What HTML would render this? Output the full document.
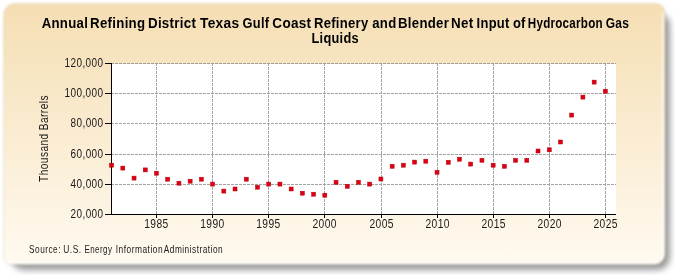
<!DOCTYPE html>
<html><head><meta charset="utf-8"><style>
html,body{margin:0;padding:0;}
body{width:675px;height:275px;position:relative;overflow:hidden;background:#fff;}
svg{position:absolute;left:0;top:0;}
.g{stroke:#a2a2a2;stroke-width:1;stroke-dasharray:3 1;shape-rendering:crispEdges;}
.ax{stroke:#000;stroke-width:1;shape-rendering:crispEdges;}
.m{fill:#de0012;stroke:#b4000c;stroke-width:0.5;}
text{font-family:"Liberation Sans",sans-serif;fill:#1a1a1a;}
#txt{opacity:0.999;}
.lab{font-size:12px;letter-spacing:0.5px;}
.t{font-size:14.2px;font-weight:bold;fill:#000;letter-spacing:0.3px;}
.src{font-size:10.2px;letter-spacing:0.6px;}
</style></head><body>
<svg width="675" height="275" viewBox="0 0 675 275">
<defs>
<filter id="fs" x="-5%" y="-5%" width="110%" height="110%"><feGaussianBlur stdDeviation="3"/></filter>
<filter id="fp" x="-2%" y="-2%" width="104%" height="104%"><feGaussianBlur stdDeviation="0.8"/></filter>
<linearGradient id="bg" x1="0" y1="0" x2="0" y2="1"><stop offset="0" stop-color="#f5deb3"/><stop offset="1" stop-color="#fffaf0"/></linearGradient>
</defs>
<rect x="11" y="13" width="659" height="257" rx="13" fill="#9a9a9a" filter="url(#fs)"/>
<g filter="url(#fp)">
<path d="M14.6,3.5 H656 A9 9 0 0 1 665,12.5 V253.5 A11 11 0 0 1 654,264.5 H10.6 A7 7 0 0 1 3.6,257.5 V14.5 A11 11 0 0 1 14.6,3.5 Z" fill="url(#bg)" stroke="rgba(120,110,80,0.14)" stroke-width="1"/>
<path d="M663 12 V252.5 A10 10 0 0 1 653 262.5 H11 A6 6 0 0 1 5.5 258" fill="none" stroke="rgba(255,255,255,0.55)" stroke-width="2.2"/>
</g>
<rect x="112" y="64" width="504" height="150" fill="#fff"/>
<line x1="111" y1="184.5" x2="616" y2="184.5" class="g"/>
<line x1="111" y1="154.5" x2="616" y2="154.5" class="g"/>
<line x1="111" y1="123.5" x2="616" y2="123.5" class="g"/>
<line x1="111" y1="93.5" x2="616" y2="93.5" class="g"/>
<line x1="111" y1="63.5" x2="616" y2="63.5" class="g"/>
<line x1="156.5" y1="63" x2="156.5" y2="214" class="g"/>
<line x1="212.5" y1="63" x2="212.5" y2="214" class="g"/>
<line x1="268.5" y1="63" x2="268.5" y2="214" class="g"/>
<line x1="324.5" y1="63" x2="324.5" y2="214" class="g"/>
<line x1="381.5" y1="63" x2="381.5" y2="214" class="g"/>
<line x1="437.5" y1="63" x2="437.5" y2="214" class="g"/>
<line x1="493.5" y1="63" x2="493.5" y2="214" class="g"/>
<line x1="549.5" y1="63" x2="549.5" y2="214" class="g"/>
<line x1="605.5" y1="63" x2="605.5" y2="214" class="g"/>
<line x1="111.5" y1="63" x2="111.5" y2="215" class="ax"/>
<line x1="111" y1="214.5" x2="616" y2="214.5" class="ax"/>
<line x1="105" y1="214.5" x2="111" y2="214.5" class="ax"/>
<line x1="105" y1="184.5" x2="111" y2="184.5" class="ax"/>
<line x1="105" y1="154.5" x2="111" y2="154.5" class="ax"/>
<line x1="105" y1="123.5" x2="111" y2="123.5" class="ax"/>
<line x1="105" y1="93.5" x2="111" y2="93.5" class="ax"/>
<line x1="105" y1="63.5" x2="111" y2="63.5" class="ax"/>
<line x1="156.5" y1="215" x2="156.5" y2="218" class="ax"/>
<line x1="212.5" y1="215" x2="212.5" y2="218" class="ax"/>
<line x1="268.5" y1="215" x2="268.5" y2="218" class="ax"/>
<line x1="324.5" y1="215" x2="324.5" y2="218" class="ax"/>
<line x1="381.5" y1="215" x2="381.5" y2="218" class="ax"/>
<line x1="437.5" y1="215" x2="437.5" y2="218" class="ax"/>
<line x1="493.5" y1="215" x2="493.5" y2="218" class="ax"/>
<line x1="549.5" y1="215" x2="549.5" y2="218" class="ax"/>
<line x1="605.5" y1="215" x2="605.5" y2="218" class="ax"/>
<rect x="109.60" y="163.20" width="4" height="4" class="m"/>
<rect x="120.82" y="166.10" width="4" height="4" class="m"/>
<rect x="132.04" y="176.10" width="4" height="4" class="m"/>
<rect x="143.27" y="167.90" width="4" height="4" class="m"/>
<rect x="154.49" y="171.20" width="4" height="4" class="m"/>
<rect x="165.71" y="177.20" width="4" height="4" class="m"/>
<rect x="176.93" y="181.20" width="4" height="4" class="m"/>
<rect x="188.15" y="179.20" width="4" height="4" class="m"/>
<rect x="199.38" y="177.20" width="4" height="4" class="m"/>
<rect x="210.60" y="182.10" width="4" height="4" class="m"/>
<rect x="221.82" y="189.10" width="4" height="4" class="m"/>
<rect x="233.04" y="187.00" width="4" height="4" class="m"/>
<rect x="244.26" y="177.20" width="4" height="4" class="m"/>
<rect x="255.49" y="185.20" width="4" height="4" class="m"/>
<rect x="266.71" y="182.10" width="4" height="4" class="m"/>
<rect x="277.93" y="182.10" width="4" height="4" class="m"/>
<rect x="289.15" y="187.00" width="4" height="4" class="m"/>
<rect x="300.37" y="191.20" width="4" height="4" class="m"/>
<rect x="311.60" y="192.20" width="4" height="4" class="m"/>
<rect x="322.82" y="193.20" width="4" height="4" class="m"/>
<rect x="334.04" y="180.30" width="4" height="4" class="m"/>
<rect x="345.26" y="184.30" width="4" height="4" class="m"/>
<rect x="356.48" y="180.30" width="4" height="4" class="m"/>
<rect x="367.71" y="182.10" width="4" height="4" class="m"/>
<rect x="378.93" y="177.00" width="4" height="4" class="m"/>
<rect x="390.15" y="164.30" width="4" height="4" class="m"/>
<rect x="401.37" y="163.20" width="4" height="4" class="m"/>
<rect x="412.59" y="160.10" width="4" height="4" class="m"/>
<rect x="423.82" y="159.20" width="4" height="4" class="m"/>
<rect x="435.04" y="170.30" width="4" height="4" class="m"/>
<rect x="446.26" y="160.30" width="4" height="4" class="m"/>
<rect x="457.48" y="157.20" width="4" height="4" class="m"/>
<rect x="468.70" y="162.10" width="4" height="4" class="m"/>
<rect x="479.93" y="158.30" width="4" height="4" class="m"/>
<rect x="491.15" y="163.20" width="4" height="4" class="m"/>
<rect x="502.37" y="164.30" width="4" height="4" class="m"/>
<rect x="513.59" y="158.30" width="4" height="4" class="m"/>
<rect x="524.81" y="158.30" width="4" height="4" class="m"/>
<rect x="536.04" y="149.00" width="4" height="4" class="m"/>
<rect x="547.26" y="147.80" width="4" height="4" class="m"/>
<rect x="558.48" y="140.00" width="4" height="4" class="m"/>
<rect x="569.70" y="113.10" width="4" height="4" class="m"/>
<rect x="580.92" y="95.10" width="4" height="4" class="m"/>
<rect x="592.15" y="80.10" width="4" height="4" class="m"/>
<rect x="603.37" y="89.20" width="4" height="4" class="m"/>
<g id="txt">
<text transform="translate(41.63,28) scale(0.9312,1)" class="t">Annual</text><text transform="translate(90.06,28) scale(0.9351,1)" class="t">Refining</text><text transform="translate(147.96,28) scale(0.9407,1)" class="t">District</text><text transform="translate(199.96,28) scale(0.9696,1)" class="t">Texas</text><text transform="translate(242.55,28) scale(0.9043,1)" class="t">Gulf</text><text transform="translate(272.32,28) scale(0.9550,1)" class="t">Coast</text><text transform="translate(313.98,28) scale(0.9212,1)" class="t">Refinery</text><text transform="translate(372.24,28) scale(0.9265,1)" class="t">and</text><text transform="translate(398.07,28) scale(0.9290,1)" class="t">Blender</text><text transform="translate(451.06,28) scale(0.9438,1)" class="t">Net</text><text transform="translate(476.59,28) scale(0.9122,1)" class="t">Input</text><text transform="translate(512.94,28) scale(0.9132,1)" class="t">of</text><text transform="translate(527.78,28) scale(0.8201,1)" class="t">Hydrocarbon</text><text transform="translate(605.78,28) scale(0.8457,1)" class="t">Gas</text><text transform="translate(311.50,43) scale(0.9025,1)" class="t">Liquids</text>
<text transform="translate(47.8,138.8) rotate(-90) translate(-43.11,0) scale(0.8453,1)" class="lab">Thousand Barrels</text>
<text transform="translate(29.09,252.7) scale(0.8107,1)" class="src">Source:</text><text transform="translate(63.28,252.7) scale(0.8250,1)" class="src">U.S.</text><text transform="translate(84.41,252.7) scale(0.7826,1)" class="src">Energy</text><text transform="translate(115.68,252.7) scale(0.8235,1)" class="src">Information</text><text transform="translate(163.80,252.7) scale(0.8125,1)" class="src">Administration</text>
<text transform="translate(70.51,217.80) scale(0.8333,1)" class="lab">20,000</text>
<text transform="translate(70.51,187.80) scale(0.8333,1)" class="lab">40,000</text>
<text transform="translate(70.51,157.80) scale(0.8333,1)" class="lab">60,000</text>
<text transform="translate(70.51,126.80) scale(0.8333,1)" class="lab">80,000</text>
<text transform="translate(64.47,96.80) scale(0.8333,1)" class="lab">100,000</text>
<text transform="translate(64.47,66.80) scale(0.8333,1)" class="lab">120,000</text>
<text transform="translate(144.19,227.8) scale(0.8561,1)" class="lab">1985</text>
<text transform="translate(200.19,227.8) scale(0.8561,1)" class="lab">1990</text>
<text transform="translate(256.19,227.8) scale(0.8561,1)" class="lab">1995</text>
<text transform="translate(312.41,227.8) scale(0.8561,1)" class="lab">2000</text>
<text transform="translate(369.41,227.8) scale(0.8561,1)" class="lab">2005</text>
<text transform="translate(425.41,227.8) scale(0.8561,1)" class="lab">2010</text>
<text transform="translate(481.41,227.8) scale(0.8561,1)" class="lab">2015</text>
<text transform="translate(537.41,227.8) scale(0.8561,1)" class="lab">2020</text>
<text transform="translate(593.41,227.8) scale(0.8561,1)" class="lab">2025</text>
</g>
</svg>
</body></html>
